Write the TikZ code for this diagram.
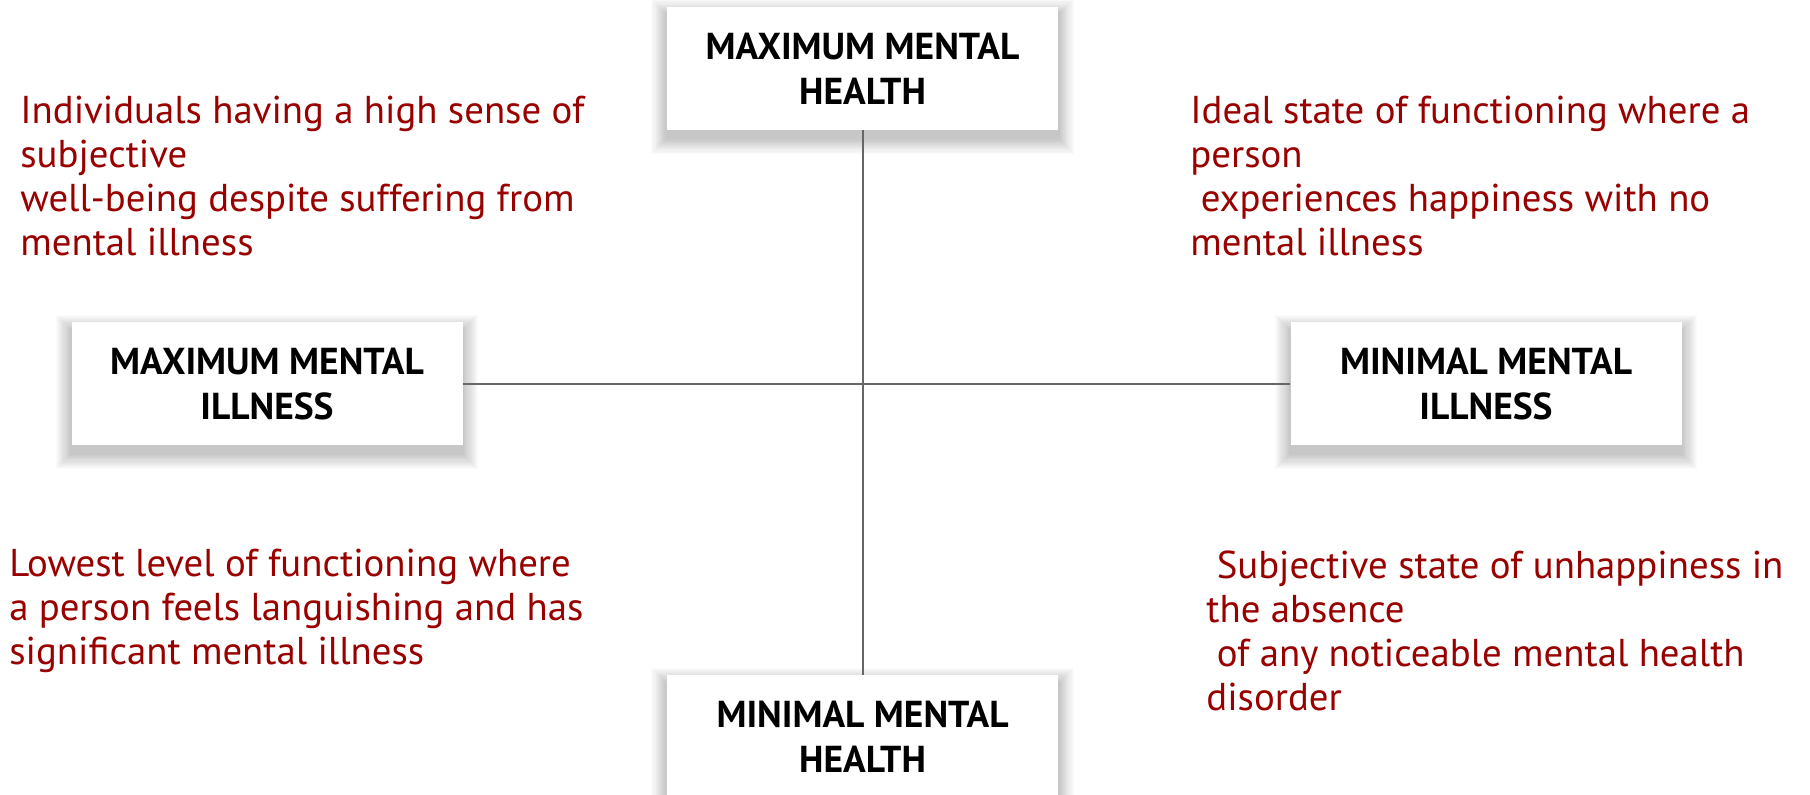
\documentclass[tikz,border=0pt]{standalone}
\usepackage{fontspec}
\setmainfont{PT Sans}
\usetikzlibrary{backgrounds}
\definecolor{notered}{HTML}{990000}
\definecolor{axisgray}{HTML}{666666}
\begin{document}
\begin{tikzpicture}[x=0.5pt,y=-0.5pt,
  quad/.style={fill=white, minimum width=195.5pt, minimum height=61.5pt,
    inner sep=0pt, align=center, text=black,
    font=\bfseries\fontsize{18.75}{22.5}\selectfont},
  note/.style={anchor=base west, align=left, inner sep=0pt, text=notered,
    font=\fontsize{19.4}{22.1}\selectfont},
  axis/.style={draw=axisgray, line width=1pt}]
  \useasboundingbox (0,0) rectangle (1810,795);

  % the four poles
  \node[quad] (maxhealth) at (862.5,68.5) {MAXIMUM MENTAL\\HEALTH};
  \node[quad] (maxill)    at (267,384)    {MAXIMUM MENTAL\\ILLNESS};
  \node[quad] (minill)    at (1486,384)   {MINIMAL MENTAL\\ILLNESS};
  \node[quad] (minhealth) at (862.5,737)  {MINIMAL MENTAL\\HEALTH};

  % axes
  \draw[axis] (maxhealth.south) -- (minhealth.north);
  \draw[axis] (maxill.east) -- (minill.west);

  % quadrant descriptions (placed by the baseline of their last line)
  \node[note] (q1) at (20,256) {Individuals having a high sense of\\subjective\\well-being despite suffering from\\mental illness};
  \node[note] (q2) at (1190,256) {Ideal state of functioning where a\\person\\\ experiences happiness with no\\mental illness};
  \node[note] (q3) at (9,665) {Lowest level of functioning where\\a person feels languishing and has\\significant mental illness};
  \node[note] (q4) at (1206,711) {\ Subjective state of unhappiness in\\the absence\\\ of any noticeable mental health\\disorder};

  % white page and soft drop shadows under the pole boxes
  \begin{scope}[on background layer]
    \fill[white] (0,0) rectangle (1810,795);
    \foreach \n in {maxhealth,maxill,minill,minhealth}{
      \foreach \k in {1,...,14}{
        \fill[black, opacity=0.016]
          ([shift={(-\k*1.1,8-\k*1.1)}]\n.north west) rectangle
          ([shift={(\k*1.1,8+\k*1.1)}]\n.south east);
      }
    }
  \end{scope}
\end{tikzpicture}
\end{document}
